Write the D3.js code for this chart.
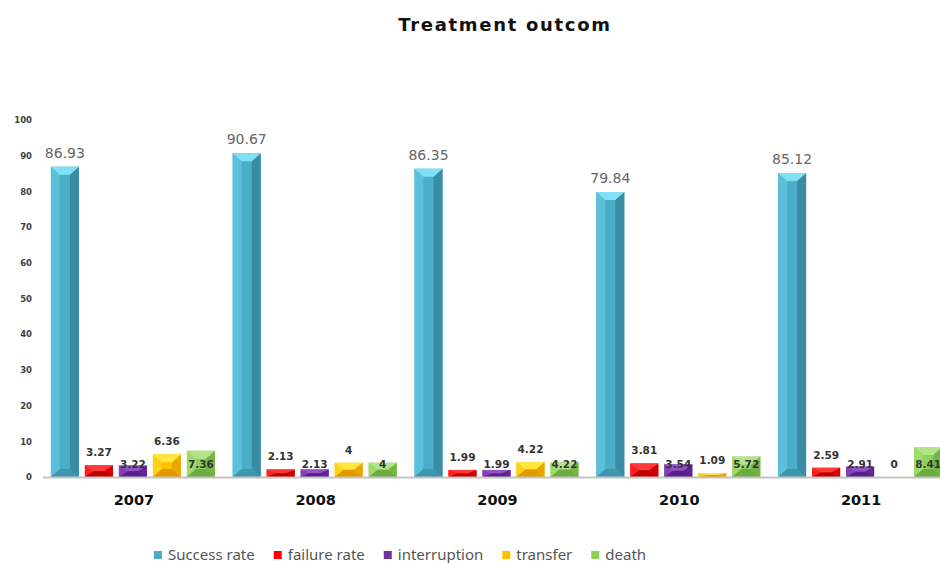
<!DOCTYPE html>
<html>
<head>
<meta charset="utf-8">
<script src="https://cdn.jsdelivr.net/npm/d3@7"></script>
<style>
  html, body { margin: 0; padding: 0; background: #fff; }
  svg { display: block; }
</style>
</head>
<body>
<script>
// Treatment outcome by year (percent)
const years = ["2007", "2008", "2009", "2010", "2011"];
const seriesNames = ["Success rate", "failure rate", "interruption", "transfer", "death"];
const successRate = [86.93, 90.67, 86.35, 79.84, 85.12];
const failureRate = [3.27, 2.13, 1.99, 3.81, 2.59];
const interruption = [3.22, 2.13, 1.99, 3.54, 2.91];
const transfer = [6.36, 4, 4.22, 1.09, 0];
const death = [7.36, 4, 4.22, 5.72, 8.41];
const yTicks = [0, 10, 20, 30, 40, 50, 60, 70, 80, 90, 100];

const seriesValues = [successRate, failureRate, interruption, transfer, death];

// Fill colours for each series: base, top face, left face, right face, bottom face
const palette = [
  { base: "#4aaec9", top: "#7fe0f6", left: "#5cc0da", right: "#3a8ba4", bottom: "#3f96ae" },
  { base: "#f01010", top: "#ff3a3a", left: "#ff1f1f", right: "#d00000", bottom: "#c00000" },
  { base: "#7a36ad", top: "#9452c6", left: "#8540b8", right: "#5f2590", bottom: "#58208a" },
  { base: "#ffc000", top: "#ffe640", left: "#ffd21a", right: "#e8a800", bottom: "#e09a00" },
  { base: "#8fd05a", top: "#b2e58a", left: "#9edb6a", right: "#74b544", bottom: "#6eab40" }
];
const swatchColors = ["#4bacc6", "#ff0000", "#7030a0", "#ffc000", "#92d050"];
// value labels of interruption and death sit at the bar foot, the others above the bar
const labelAtFoot = [false, false, true, false, true];

const W = 940, H = 563;
const svg = d3.select("body").append("svg").attr("width", W).attr("height", H);

const x0 = d3.scaleBand().domain(years).range([42, 951]).padding(0);
const x1 = d3.scaleBand().domain(seriesNames)
  .range([0, 170]).paddingInner(0.176).paddingOuter(0.088);
const innerOffset = (x0.bandwidth() - 170) / 2;
const y = d3.scaleLinear().domain([0, 100]).range([477, 120]);

// Title
svg.append("text")
  .attr("x", 505).attr("y", 31)
  .attr("text-anchor", "middle")
  .attr("font-family", "DejaVu Sans")
  .attr("font-weight", "bold")
  .attr("font-size", 18)
  .attr("letter-spacing", 1.7)
  .attr("fill", "#111")
  .text("Treatment outcom");

// Y axis labels (no axis line)
const yAxis = d3.axisLeft(y).tickValues(yTicks).tickSize(0).tickPadding(0);
const yg = svg.append("g").attr("transform", "translate(32,0)").call(yAxis);
yg.select(".domain").remove();
yg.selectAll("text")
  .attr("font-family", "DejaVu Sans")
  .attr("font-weight", "bold")
  .attr("font-size", 8.5)
  .attr("fill", "#404040");

// Bars
const plot = svg.append("g");

function drawBar(g, xa, wa, v, colors) {
  const xb = xa + wa;
  const y0 = y(v), y1 = y(0);
  const h = y1 - y0;
  if (h <= 0) return;
  const bx = wa * 0.32;
  const by = Math.min(8, h / 2);
  const poly = pts => pts.map(p => p.join(",")).join(" ");
  g.append("rect").attr("x", xa).attr("y", y0).attr("width", wa).attr("height", h)
    .attr("fill", colors.base);
  g.append("polygon").attr("fill", colors.left)
    .attr("points", poly([[xa, y0], [xa + bx, y0 + by], [xa + bx, y1 - by], [xa, y1]]));
  g.append("polygon").attr("fill", colors.right)
    .attr("points", poly([[xb, y0], [xb - bx, y0 + by], [xb - bx, y1 - by], [xb, y1]]));
  g.append("polygon").attr("fill", colors.top)
    .attr("points", poly([[xa, y0], [xb, y0], [xb - bx, y0 + by], [xa + bx, y0 + by]]));
  g.append("polygon").attr("fill", colors.bottom)
    .attr("points", poly([[xa, y1], [xb, y1], [xb - bx, y1 - by], [xa + bx, y1 - by]]));
}

years.forEach((yr, i) => {
  const g = plot.append("g").attr("transform", `translate(${x0(yr) + innerOffset},0)`);
  seriesNames.forEach((s, k) => {
    const v = seriesValues[k][i];
    const xa = x1(s), wa = x1.bandwidth();
    drawBar(g, xa, wa, v, palette[k]);
  });
});

// Baseline
svg.append("line")
  .attr("x1", 43).attr("x2", W)
  .attr("y1", y(0) + 0.5).attr("y2", y(0) + 0.5)
  .attr("stroke", "#c4c4c4").attr("stroke-width", 2);

// Value labels
years.forEach((yr, i) => {
  seriesNames.forEach((s, k) => {
    const v = seriesValues[k][i];
    const cx = x0(yr) + innerOffset + x1(s) + x1.bandwidth() / 2;
    const ty = labelAtFoot[k] ? y(0) - 9 : y(v) - 9;
    const t = svg.append("text")
      .attr("x", cx).attr("y", ty)
      .attr("text-anchor", "middle")
      .attr("font-family", "DejaVu Sans")
      .text(String(v));
    if (k === 0) {
      t.attr("font-size", 14).attr("fill", "#666");
    } else {
      t.attr("font-size", 10.5).attr("font-weight", "bold").attr("fill", "#333");
    }
  });
});

// X axis year labels
years.forEach(yr => {
  svg.append("text")
    .attr("x", x0(yr) + x0.bandwidth() / 2 + 1)
    .attr("y", 505)
    .attr("text-anchor", "middle")
    .attr("font-family", "DejaVu Sans")
    .attr("font-weight", "bold")
    .attr("font-size", 14.5)
    .attr("fill", "#111")
    .text(yr);
});

// Legend
const legend = svg.append("g");
let lx = 0;
seriesNames.forEach((s, k) => {
  const item = legend.append("g").attr("transform", `translate(${lx},0)`);
  item.append("rect").attr("x", 0).attr("y", -4).attr("width", 8).attr("height", 8)
    .attr("fill", swatchColors[k]);
  const t = item.append("text")
    .attr("x", 14).attr("y", 5)
    .attr("font-family", "Noto Sans")
    .attr("font-size", 15)
    .attr("fill", "#555")
    .text(s);
  lx += 14 + t.node().getComputedTextLength() + 19;
});
const legendWidth = lx - 19;
legend.attr("transform", `translate(${400 - legendWidth / 2},555)`);
</script>
</body>
</html>
